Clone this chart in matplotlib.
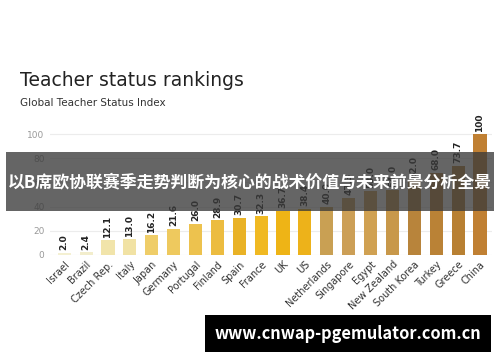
import matplotlib
matplotlib.use("Agg")
import matplotlib.pyplot as plt
from matplotlib.patches import Rectangle

# data
countries = ["Israel", "Brazil", "Czech Rep.", "Italy", "Japan", "Germany",
             "Portugal", "Finland", "Spain", "France", "UK", "US",
             "Netherlands", "Singapore", "Egypt", "New Zealand",
             "South Korea", "Turkey", "Greece", "China"]
scores = [2.0, 2.4, 12.1, 13.0, 16.2, 21.6, 26.0, 28.9, 30.7, 32.3,
          36.7, 38.4, 40.0, 47.3, 53.0, 54.0, 62.0, 68.0, 73.7, 100]
bar_colors = ["#f4f0d2", "#f2edcc", "#f1e4aa", "#f1e2a4", "#efcd68", "#eec95e",
              "#edc24e", "#ecbc40", "#e9b226", "#f0b922", "#eeb416", "#edb21a",
              "#c9a053", "#cc9f56", "#d0a152", "#c8984a", "#b8843b", "#ba8236",
              "#b88032", "#c08033"]
yticks = [0, 20, 40, 60, 80, 100]

banner = "以B席欧协联赛季走势判断为核心的战术价值与未来前景分析全景"
site = "www.cnwap-pgemulator.com.cn"

fig = plt.figure(figsize=(5, 3.62), dpi=100)
fig.patch.set_facecolor("white")

ax = fig.add_axes([50 / 500, 107 / 362, 442 / 500, 133 / 362])
x = range(len(countries))
ax.bar(x, scores, width=0.6, color=bar_colors, zorder=2)
for xi, v in zip(x, scores):
    lab = "100" if v == 100 else f"{v:.1f}"
    ax.text(xi, v + 2, lab, rotation=90, ha="center", va="bottom",
            fontsize=6.5, fontweight="bold", color="#222222")

ax.set_xlim(-0.65, 19.55)
ax.set_ylim(0, 110)
ax.set_yticks(yticks)
ax.set_yticklabels([str(t) for t in yticks], fontsize=6.5, color="#999999")
ax.yaxis.grid(True, color="#ececec", linewidth=0.8, zorder=0)
ax.tick_params(axis="y", length=0, pad=4)
ax.set_xticks(list(x))
ax.set_xticklabels(countries, rotation=45, ha="right", rotation_mode="anchor",
                   fontsize=7, color="#333333")
ax.tick_params(axis="x", length=0, pad=3)
for s in ax.spines.values():
    s.set_visible(False)

fig.text(20 / 500, 1 - 80 / 362, "Teacher status rankings", fontsize=13.5,
         color="#222222", va="center", ha="left")
fig.text(20 / 500, 1 - 103 / 362, "Global Teacher Status Index", fontsize=7.5,
         color="#333333", va="center", ha="left")

# dark overlay banner
fig.patches.append(Rectangle((6 / 500, 1 - 211 / 362), 488 / 500, 59 / 362,
                             transform=fig.transFigure, facecolor="#3a3a3a",
                             alpha=0.78, edgecolor="none", zorder=5))
fig.text(0.5, 1 - 182 / 362, banner, fontsize=12.2, fontweight="bold",
         color="white", ha="center", va="center", zorder=6,
         family=["Noto Sans CJK SC", "DejaVu Sans"])

# site box at the bottom
fig.patches.append(Rectangle((205 / 500, 1 - 352 / 362), 286 / 500, 37 / 362,
                             transform=fig.transFigure, facecolor="black",
                             edgecolor="none", zorder=5))
fig.text(348 / 500, 1 - 334 / 362, site, fontsize=11.8, fontweight="bold",
         color="white", ha="center", va="center", zorder=6,
         family=["Noto Sans CJK SC", "DejaVu Sans"])

fig.savefig("out.png", dpi=100)
